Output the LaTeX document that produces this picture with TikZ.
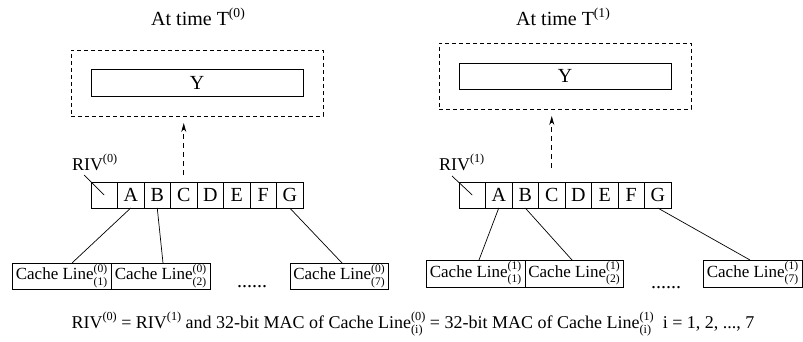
\documentclass[tikz,border=0pt]{standalone}
\usepackage{fontspec}
\setmainfont{Liberation Serif}
\usetikzlibrary{arrows.meta,calc}

\makeatletter
% text set at 68% of the surrounding size, for raised and lowered indices
\newcommand\scr[1]{{\fontsize{\strip@pt\dimexpr0.68\dimexpr\f@size pt\relax\relax}{0}\selectfont #1}}
\makeatother
\newcommand\sps[1]{\raisebox{0.42em}{\scr{#1}}}
\newsavebox\supbox
\newsavebox\subbox
% stacked superscript and subscript, as wide as the wider of the two
\newcommand\supsub[2]{%
  \sbox\supbox{\raisebox{0.42em}{\scr{#1}}}%
  \sbox\subbox{\raisebox{-0.32em}{\scr{#2}}}%
  \ifdim\wd\supbox>\wd\subbox
    \rlap{\usebox\subbox}\usebox\supbox
  \else
    \rlap{\usebox\supbox}\usebox\subbox
  \fi}

\tikzset{
  every node/.style={inner sep=0pt, outer sep=0pt},
  big/.style={font=\fontsize{20}{24}\selectfont},
  title/.style={big, anchor=base},
  cellbox/.style={draw, line width=0.9pt, minimum width=26.5pt, minimum height=26pt, big},
  ybox/.style={draw, line width=0.9pt, minimum width=212pt, minimum height=27pt, big},
  frame/.style={draw, line width=0.8pt, dash pattern=on 4pt off 3pt, minimum width=252pt, minimum height=66pt},
  linebox/.style={draw, line width=0.9pt, minimum width=99pt, minimum height=26pt, font=\fontsize{17}{20}\selectfont},
  rivlabel/.style={anchor=base west, font=\fontsize{18}{22}\selectfont},
  dots/.style={anchor=base, big},
  wire/.style={line width=0.7pt},
  uparrow/.style={line width=0.8pt, dash pattern=on 5pt off 4pt, -{Stealth[length=9pt,width=5pt]}},
}

\begin{document}
\begin{tikzpicture}[x=1pt, y=-1pt]
\useasboundingbox (0,0) rectangle (803,342);

% ---------- state at time T(0) ----------
\node[title] (t0) at (198,26) {At time T\sps{(0)}};
\node[frame] (f0) at (197,83) {};
\node[ybox] (y0) at (197,82.5) {Y};
\foreach \i/\t in {0/,1/A,2/B,3/C,4/D,5/E,6/F,7/G}
  \node[cellbox] (l\i) at ({104.25+26.5*\i},195) {\t};
\draw[uparrow] ($(l3.north)+(0,-7)$) -- ($(f0.south -| l3)+(0,7)$);
\node[rivlabel] (riv0) at (72,170) {RIV\sps{(0)}};
\coordinate (s0) at (84,175);
\draw[wire] (s0) -- (l0.center);

\node[linebox] (a0) at (61.5,276) {Cache Line\supsub{(0)}{(1)}};
\node[linebox] (b0) at (160.5,276) {Cache Line\supsub{(0)}{(2)}};
\node[linebox, minimum width=98pt] (g0) at (339,276) {Cache Line\supsub{(0)}{(7)}};
\node[dots] (d0) at (252,287) {......};
\draw[wire] (l1.south) -- ([xshift=10.5pt]a0.north);
\draw[wire] (l2.south) -- ([xshift=2.5pt]b0.north);
\draw[wire] (l7.south) -- ([xshift=3pt]g0.north);

% ---------- state at time T(1) ----------
\node[title] (t1) at (563,26) {At time T\sps{(1)}};
\node[frame] (f1) at (565,76) {};
\node[ybox, minimum height=26pt] (y1) at (565,76) {Y};
\foreach \i/\t in {0/,1/A,2/B,3/C,4/D,5/E,6/F,7/G}
  \node[cellbox] (r\i) at ({472.25+26.5*\i},195) {\t};
\draw[uparrow] ($(r3.north)+(0,-14)$) -- ($(f1.south -| r3)+(0,7)$);
\node[rivlabel] (riv1) at (439,170) {RIV\sps{(1)}};
\coordinate (s1) at (452,176);
\draw[wire] (s1) -- (r0.center);

\node[linebox, minimum height=27pt] (a1) at (475.5,273.5) {Cache Line\supsub{(1)}{(1)}};
\node[linebox, minimum height=27pt, minimum width=98pt] (b1) at (574,273.5) {Cache Line\supsub{(1)}{(2)}};
\node[linebox, minimum height=27pt] (g1) at (752.5,273.5) {Cache Line\supsub{(1)}{(7)}};
\node[dots] (d1) at (666,288) {......};
\draw[wire] (r1.south) -- ([xshift=3.5pt]a1.north);
\draw[wire] (r2.south) -- ([xshift=-2pt]b1.north);
\draw[wire] (r7.south) -- ([xshift=-2.5pt]g1.north);

% ---------- relation between the two states ----------
\node[anchor=base, font=\fontsize{18}{22}\selectfont] (eq) at (413,328)
  {RIV\sps{(0)} = RIV\sps{(1)} and 32-bit MAC of Cache Line\supsub{(0)}{(i)} = 32-bit MAC of Cache Line\supsub{(1)}{(i)}\ \ i = 1, 2, ..., 7};
\end{tikzpicture}
\end{document}
